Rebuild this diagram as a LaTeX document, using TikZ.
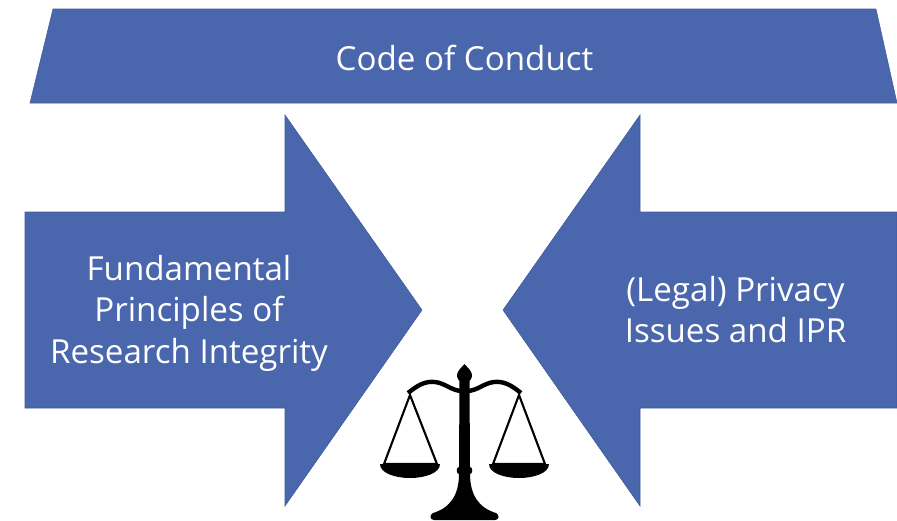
\documentclass[tikz,border=0pt]{standalone}
\usepackage{fontspec}
\setmainfont{Open Sans}
\definecolor{bandblue}{HTML}{4A66AC}
\definecolor{edgeblue}{HTML}{3F5A9C}
\tikzset{
	bandshape/.style={fill=bandblue, draw=edgeblue, line width=0.3pt},
	bandtext/.style={text=white, align=center, font=\fontsize{18.85}{23.6}\selectfont, inner sep=0pt},
	scalepart/.style={fill=black, draw=none},
	scalecord/.style={draw=black, line width=1.2pt}
}
\begin{document}
\begin{tikzpicture}[x=0.2mm, y=-0.2mm]
	\useasboundingbox (0,0) rectangle (897,520);
	% blue shapes
	\draw [bandshape] (53,9) -- (876,9) -- (897,103) -- (30,103) -- cycle;
	\draw [bandshape] (25,212) -- (285,212) -- (285,115) -- (422,310) -- (285,506) -- (285,408) -- (25,408) -- cycle;
	\draw [bandshape] (897,212) -- (640,212) -- (640,115) -- (503,310) -- (640,506) -- (640,408) -- (897,408) -- cycle;
	\node [bandtext] (conduct) at (464.5,58) {Code of Conduct};
	\node [bandtext] (principles) at (189,313) {Fundamental\\Principles of\\Research Integrity};
	\node [bandtext] (privacy) at (735.5,309.5) {(Legal) Privacy\\Issues and IPR};
	% scales
	\fill [scalepart] (464.5,364) .. controls (462,367) and (457,371) .. (457,375) .. controls (457,379) and (459,380) .. (459.5,381) -- (459,467) .. controls (456,467) and (456,474) .. (459,474) .. controls (459,495) and (450,508) .. (433,513) .. controls (429,515) and (430,520) .. (434,520) -- (495,520) .. controls (499,520) and (500,515) .. (496,513) .. controls (479,508) and (470,495) .. (470,474) .. controls (473,474) and (473,467) .. (470,467) -- (469.5,381) .. controls (470,380) and (472,379) .. (472,375) .. controls (472,371) and (467,367) .. (464.5,364) -- cycle;
	\draw [line width=2.5pt] (408,393) .. controls (418,385) and (425,381) .. (435,382) .. controls (445,383) and (452,391) .. (462,391) -- (467,391) .. controls (477,391) and (484,383) .. (494,382) .. controls (504,381) and (511,385) .. (521,393);
	\draw [scalecord] (410,395) -- (384,464) -- (437,464) -- cycle;
	\draw [scalecord] (519,395) -- (493,464) -- (545,464) -- cycle;
	\fill [scalepart] (380,464) -- (440,464) .. controls (440,473) and (425,478) .. (410,478) .. controls (395,478) and (380,473) .. (380,464) -- cycle;
	\fill [scalepart] (489,464) -- (549,464) .. controls (549,473) and (534,478) .. (519,478) .. controls (504,478) and (489,473) .. (489,464) -- cycle;
\end{tikzpicture}
\end{document}
